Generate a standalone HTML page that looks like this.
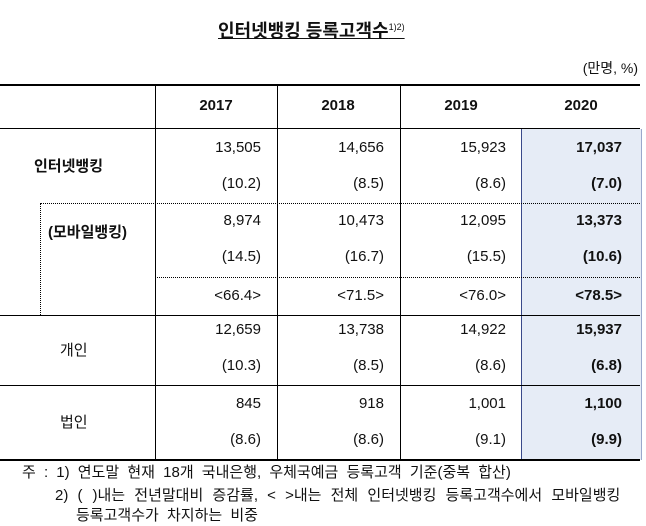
<!DOCTYPE html>
<html><head><meta charset="utf-8"><style>
body{margin:0;width:646px;height:526px;background:#fff;position:relative;overflow:hidden;font-family:"Liberation Sans","Noto Sans CJK KR",sans-serif;color:#111}
.a{position:absolute;white-space:nowrap}
.l{position:absolute;background:#000}
.n{position:absolute;font-size:15px;text-align:right;width:110px}
.b{font-weight:bold}
.h{position:absolute;font-size:15px;font-weight:bold;text-align:center;width:122px;top:97px}
</style></head><body>
<div class="a b" style="left:218px;top:17px;font-size:18px;text-decoration:underline">인터넷뱅킹 등록고객수<sup style="font-size:9px;font-weight:normal">1)2)</sup></div>
<div class="a" style="right:8px;top:58px;font-size:14px">(만명, %)</div>
<div class="a" style="left:521px;top:129px;width:119px;height:331px;background:#e6ecf6;border-left:1px solid #3a4a8a;border-right:1px solid #9aa8cc"></div>
<div class="l" style="left:0;top:84px;width:640px;height:2px"></div>
<div class="l" style="left:0;top:128px;width:640px;height:1px"></div>
<div class="l" style="left:0;top:315px;width:640px;height:1px"></div>
<div class="l" style="left:0;top:385px;width:640px;height:1px"></div>
<div class="l" style="left:0;top:459px;width:640px;height:2px"></div>
<div class="a" style="left:40px;top:203px;width:600px;border-top:1px dotted #000"></div>
<div class="a" style="left:155px;top:277px;width:485px;border-top:1px dotted #000"></div>
<div class="a" style="left:40px;top:203px;height:112px;border-left:1px dotted #000"></div>
<div class="l" style="left:155px;top:84px;width:1px;height:376px"></div>
<div class="l" style="left:277px;top:84px;width:1px;height:376px"></div>
<div class="l" style="left:400px;top:84px;width:1px;height:376px"></div>
<div class="h" style="left:155px">2017</div><div class="h" style="left:277px">2018</div><div class="h" style="left:400px">2019</div><div class="h" style="left:520px">2020</div>
<div class="a b" style="left:34px;top:155px;font-size:15px">인터넷뱅킹</div>
<div class="a b" style="left:48px;top:221px;font-size:15px">(모바일뱅킹)</div>
<div class="a" style="left:60px;top:339px;font-size:15px">개인</div>
<div class="a" style="left:60px;top:411px;font-size:15px">법인</div>
<div id="g"></div>
<script>
var rows=[[139,["13,505","14,656","15,923","17,037"]],[175,["(10.2)","(8.5)","(8.6)","(7.0)"]],[212,["8,974","10,473","12,095","13,373"]],[248,["(14.5)","(16.7)","(15.5)","(10.6)"]],[287,["<66.4>","<71.5>","<76.0>","<78.5>"]],[321,["12,659","13,738","14,922","15,937"]],[357,["(10.3)","(8.5)","(8.6)","(6.8)"]],[395,["845","918","1,001","1,100"]],[431,["(8.6)","(8.6)","(9.1)","(9.9)"]]];
var R=[261,384,506,622],h="";
rows.forEach(function(r){r[1].forEach(function(t,i){h+='<div class="n'+(i==3?' b':'')+'" style="left:'+(R[i]-110)+'px;top:'+r[0]+'px">'+t.replace(/</g,'&lt;').replace(/>/g,'&gt;')+'</div>';});});
document.getElementById('g').innerHTML=h;
</script>
<div class="a" style="left:22px;top:461px;font-size:15px;word-spacing:4px">주 : 1) 연도말 현재 18개 국내은행, 우체국예금 등록고객 기준(중복 합산)</div>
<div class="a" style="left:55px;top:484px;font-size:15px;word-spacing:5px">2) (<span style="display:inline-block;width:10px"></span>)내는 전년말대비 증감률, &lt; &gt;내는 전체 인터넷뱅킹 등록고객수에서 모바일뱅킹</div>
<div class="a" style="left:76px;top:504px;font-size:15px;word-spacing:4px">등록고객수가 차지하는 비중</div>
</body></html>
